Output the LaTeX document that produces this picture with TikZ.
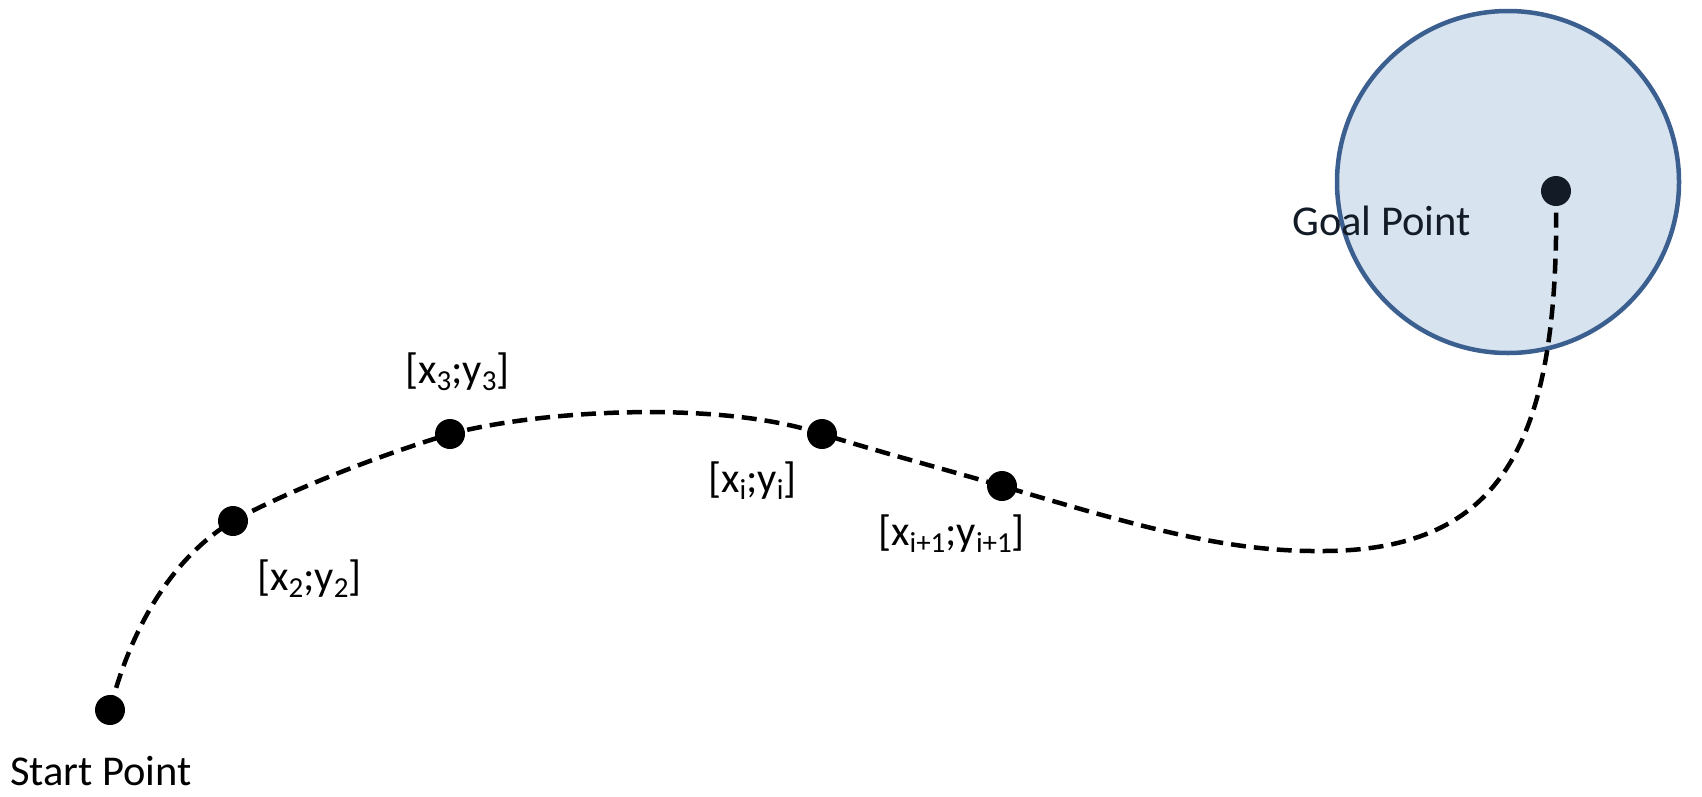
\documentclass[tikz,border=0pt]{standalone}
\usepackage{fontspec}
\setmainfont{Carlito}
\pgfdeclarelayer{back}
\pgfdeclarelayer{mid}
\pgfsetlayers{back,mid,main}
\definecolor{zonefill}{HTML}{D7E3EF}
\definecolor{zoneline}{HTML}{3B6090}
\definecolor{goaldot}{HTML}{121B26}
\newcommand{\lowidx}[1]{\raisebox{-7pt}{\fontsize{29}{29}\selectfont #1}}
\begin{document}
\begin{tikzpicture}[x=1pt,y=-1pt,
  waypoint/.style={circle,fill=black,inner sep=0pt,minimum size=30pt},
  trajectory/.style={line width=4.5pt,dash pattern=on 15pt off 8pt},
  caption/.style={anchor=base west,inner sep=0pt,font=\fontsize{42.5}{42.5}\selectfont}]
  \useasboundingbox (0,0) rectangle (1702,796);

  % goal region
  \begin{pgfonlayer}{back}
    \node[circle,draw=zoneline,fill=zonefill,line width=4.5pt,inner sep=0pt,
          minimum size=342pt] (zone) at (1508,182) {};
  \end{pgfonlayer}

  % waypoints
  \node[waypoint] (start) at (110,710) {};
  \node[waypoint] (p2) at (233,521) {};
  \node[waypoint] (p3) at (450,434) {};
  \node[waypoint] (pi) at (822,434) {};
  \node[waypoint] (pn) at (1002,486) {};
  \node[waypoint,fill=goaldot] (goal) at (1556,191) {};
  \coordinate (low) at (1324,551);

  % planned trajectory
  \begin{pgfonlayer}{mid}
    \draw[trajectory] (start.center)
      .. controls (125,650) and (160,565) .. (p2.center)
      .. controls (290,490) and (380,455) .. (p3.center)
      .. controls (540,410) and (720,400) .. (pi.center)
      .. controls (880,452) and (940,468) .. (pn.center)
      .. controls (1150,530) and (1230,552) .. (low)
      .. controls (1505,550) and (1560,440) .. (goal.center);
  \end{pgfonlayer}

  % labels
  \node[caption] (tstart) at (10,785) {Start Point};
  \node[caption,text=goaldot] (tgoal) at (1292,235) {Goal Point};
  \node[caption] (t2) at (257,590) {[x\lowidx{2};y\lowidx{2}]};
  \node[caption] (t3) at (405,383) {[x\lowidx{3};y\lowidx{3}]};
  \node[caption] (ti) at (708,492) {[x\lowidx{i};y\lowidx{i}]};
  \node[caption] (tn) at (878,545) {[x\lowidx{i+1};y\lowidx{i+1}]};
\end{tikzpicture}
\end{document}
